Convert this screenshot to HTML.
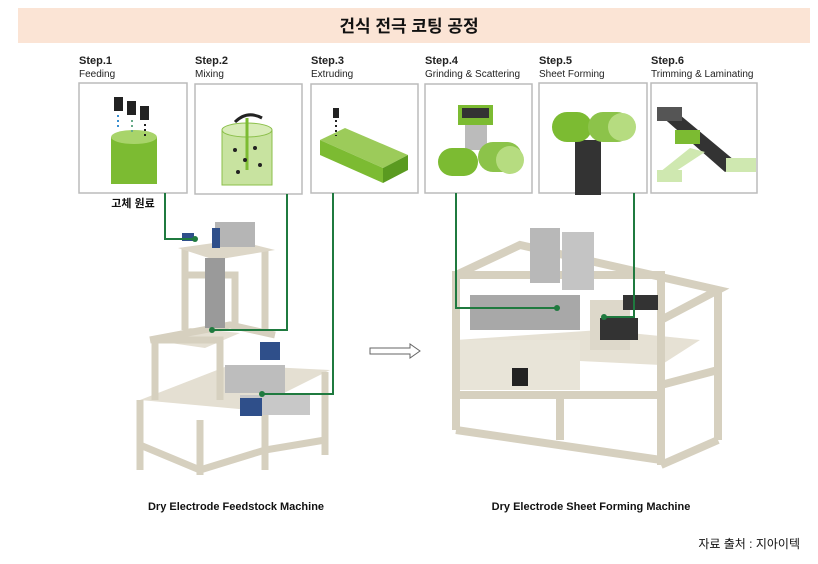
<!DOCTYPE html>
<html><head><meta charset="utf-8"><style>
body{margin:0;background:#fff;width:818px;height:559px;overflow:hidden;font-family:"Liberation Sans","Noto Sans CJK KR",sans-serif;}
</style></head><body>
<svg width="818" height="559" xmlns="http://www.w3.org/2000/svg" font-family="Liberation Sans, Noto Sans CJK KR, sans-serif">
<rect x="18" y="8" width="792" height="35" fill="#fbe4d5"/>
<text x="409" y="32" text-anchor="middle" font-size="17" font-weight="bold" fill="#111">건식 전극 코팅 공정</text>
<g font-size="10" fill="#222">
<text x="79" y="64" font-weight="bold" font-size="11">Step.1</text><text x="79" y="77">Feeding</text>
<text x="195" y="64" font-weight="bold" font-size="11">Step.2</text><text x="195" y="77">Mixing</text>
<text x="311" y="64" font-weight="bold" font-size="11">Step.3</text><text x="311" y="77">Extruding</text>
<text x="425" y="64" font-weight="bold" font-size="11">Step.4</text><text x="425" y="77">Grinding &amp; Scattering</text>
<text x="539" y="64" font-weight="bold" font-size="11">Step.5</text><text x="539" y="77">Sheet Forming</text>
<text x="651" y="64" font-weight="bold" font-size="11">Step.6</text><text x="651" y="77">Trimming &amp; Laminating</text>
</g>
<g fill="#fff" stroke="#bbb" stroke-width="1.5">
<rect x="79" y="83" width="108" height="110"/><rect x="195" y="84" width="107" height="110"/>
<rect x="311" y="84" width="107" height="109"/><rect x="425" y="84" width="107" height="109"/>
<rect x="539" y="83" width="108" height="110"/><rect x="651" y="83" width="106" height="110"/>
</g>
<!-- step1 -->
<rect x="111" y="137" width="46" height="47" fill="#7cbb32"/><ellipse cx="134" cy="137" rx="23" ry="7" fill="#a8d46a"/>
<rect x="114" y="97" width="9" height="14" fill="#222"/><rect x="127" y="101" width="9" height="14" fill="#222"/><rect x="140" y="106" width="9" height="14" fill="#222"/>
<line x1="118" y1="115" x2="118" y2="130" stroke="#3a8fd0" stroke-width="2" stroke-dasharray="2,3"/>
<line x1="132" y1="120" x2="132" y2="133" stroke="#6a8" stroke-width="2" stroke-dasharray="2,3"/>
<line x1="145" y1="124" x2="145" y2="137" stroke="#222" stroke-width="2" stroke-dasharray="2,3"/>
<!-- step2 -->
<rect x="222" y="130" width="50" height="55" fill="#c8e3a0" stroke="#8bbf4a"/><ellipse cx="247" cy="130" rx="25" ry="7" fill="#d8ecb8" stroke="#8bbf4a"/>
<line x1="247" y1="118" x2="247" y2="170" stroke="#7cbb32" stroke-width="3"/>
<path d="M235 122 Q247 110 262 118" stroke="#222" stroke-width="3" fill="none"/>
<g fill="#222"><circle cx="235" cy="150" r="2"/><circle cx="255" cy="148" r="2"/><circle cx="245" cy="160" r="2"/><circle cx="260" cy="165" r="2"/><circle cx="238" cy="172" r="2"/></g>
<!-- step3 -->
<polygon points="320,140 345,128 408,155 383,168" fill="#9ccb5a"/><polygon points="320,140 383,168 383,183 320,155" fill="#7cbb32"/><polygon points="383,168 408,155 408,170 383,183" fill="#5a9a20"/>
<rect x="333" y="108" width="6" height="10" fill="#222"/>
<line x1="336" y1="120" x2="336" y2="136" stroke="#222" stroke-width="2" stroke-dasharray="2,3"/>
<!-- step4 -->
<rect x="458" y="105" width="35" height="20" fill="#7cbb32"/><rect x="462" y="108" width="27" height="10" fill="#333"/>
<rect x="465" y="125" width="22" height="25" fill="#bbb"/>
<rect x="438" y="148" width="40" height="28" rx="14" fill="#7cbb32"/><rect x="478" y="142" width="44" height="30" rx="15" fill="#8cc34a"/><circle cx="510" cy="160" r="14" fill="#b6dc80"/>
<!-- step5 -->
<rect x="575" y="140" width="26" height="55" fill="#333"/>
<rect x="552" y="112" width="40" height="30" rx="15" fill="#7cbb32"/><rect x="588" y="112" width="44" height="30" rx="15" fill="#8cc34a"/><circle cx="622" cy="127" r="14" fill="#b6dc80"/>
<!-- step6 -->
<polygon points="660,115 680,115 740,165 725,172" fill="#333"/><rect x="657" y="107" width="25" height="14" fill="#555"/>
<rect x="675" y="130" width="25" height="14" fill="#7cbb32"/><rect x="726" y="158" width="30" height="14" fill="#cfe8b0"/>
<polygon points="690,148 705,152 670,175 660,172" fill="#cfe8b0"/><rect x="657" y="170" width="25" height="12" fill="#cfe8b0"/>
<text x="133" y="207" text-anchor="middle" font-size="11" font-weight="bold" fill="#111">고체 원료</text>
<!-- left machine -->
<polygon points="140,400 230,365 330,370 250,410" fill="#e4dfd2"/>
<polygon points="150,340 190,328 240,333 205,348" fill="#e4dfd2"/>
<g fill="none" stroke="#d6d0bf" stroke-width="7">
<polyline points="140,400 140,470"/><polyline points="140,445 200,470 265,450 325,440"/>
<line x1="200" y1="420" x2="200" y2="475"/><line x1="265" y1="410" x2="265" y2="470"/><line x1="325" y1="372" x2="325" y2="455"/>
<polyline points="155,400 155,340 220,340 220,400"/><polyline points="185,330 185,275 235,275 235,330"/>
<line x1="185" y1="248" x2="185" y2="330"/><line x1="265" y1="250" x2="265" y2="330"/>
<polyline points="150,340 230,325 275,335"/>
</g>
<polygon points="178,248 235,240 275,250 215,260" fill="#ddd7c8"/>
<rect x="205" y="258" width="20" height="70" fill="#9a9a9a"/>
<rect x="225" y="365" width="60" height="28" fill="#bdbdbd"/><rect x="240" y="395" width="70" height="20" fill="#c8c8c8"/>
<rect x="240" y="398" width="22" height="18" fill="#2f4f8a"/><rect x="260" y="342" width="20" height="18" fill="#2f4f8a"/>
<rect x="215" y="222" width="40" height="25" fill="#b5b5b5"/><rect x="212" y="228" width="8" height="20" fill="#2f4f8a"/><rect x="182" y="233" width="12" height="8" fill="#2f4f8a"/>
<!-- right machine -->
<polygon points="456,340 600,330 700,340 661,365 456,355" fill="#e6e1d4"/>
<rect x="460" y="340" width="120" height="50" fill="#e8e4d8"/>
<g fill="none" stroke="#d6d0bf" stroke-width="8">
<rect x="456" y="275" width="205" height="120"/><polyline points="456,275 520,245 718,290 661,320"/>
<line x1="718" y1="290" x2="718" y2="440"/><line x1="661" y1="395" x2="661" y2="465"/><line x1="456" y1="395" x2="456" y2="430"/>
<line x1="560" y1="395" x2="560" y2="440"/><line x1="456" y1="430" x2="661" y2="460"/><line x1="661" y1="465" x2="718" y2="440"/>
<line x1="661" y1="385" x2="718" y2="370"/>
</g>
<rect x="530" y="228" width="30" height="55" fill="#b8b8b8"/><rect x="562" y="232" width="32" height="58" fill="#c4c4c4"/>
<rect x="470" y="295" width="110" height="35" fill="#a8a8a8"/><rect x="590" y="300" width="40" height="50" fill="#ddd8ca"/>
<rect x="600" y="318" width="38" height="22" fill="#333"/><rect x="623" y="295" width="35" height="15" fill="#333"/><rect x="512" y="368" width="16" height="18" fill="#222"/>
<!-- green connectors -->
<g fill="none" stroke="#1f7a3f" stroke-width="2">
<polyline points="165,193 165,239 195,239"/><polyline points="287,194 287,330 212,330"/><polyline points="333,193 333,394 262,394"/>
<polyline points="456,193 456,308 557,308"/><polyline points="634,193 634,317 604,317"/>
</g>
<g fill="#1f7a3f"><circle cx="195" cy="239" r="3"/><circle cx="212" cy="330" r="3"/><circle cx="262" cy="394" r="3"/><circle cx="557" cy="308" r="3"/><circle cx="604" cy="317" r="3"/></g>
<polygon points="370,348 410,348 410,344 420,351 410,358 410,354 370,354" fill="#fff" stroke="#666"/>
<text x="236" y="510" text-anchor="middle" font-size="11" font-weight="bold" fill="#111">Dry Electrode Feedstock Machine</text>
<text x="591" y="510" text-anchor="middle" font-size="11" font-weight="bold" fill="#111">Dry Electrode Sheet Forming Machine</text>
<text x="800" y="548" text-anchor="end" font-size="12" fill="#111">자료 출처 : 지아이텍</text>
</svg>
</body></html>
